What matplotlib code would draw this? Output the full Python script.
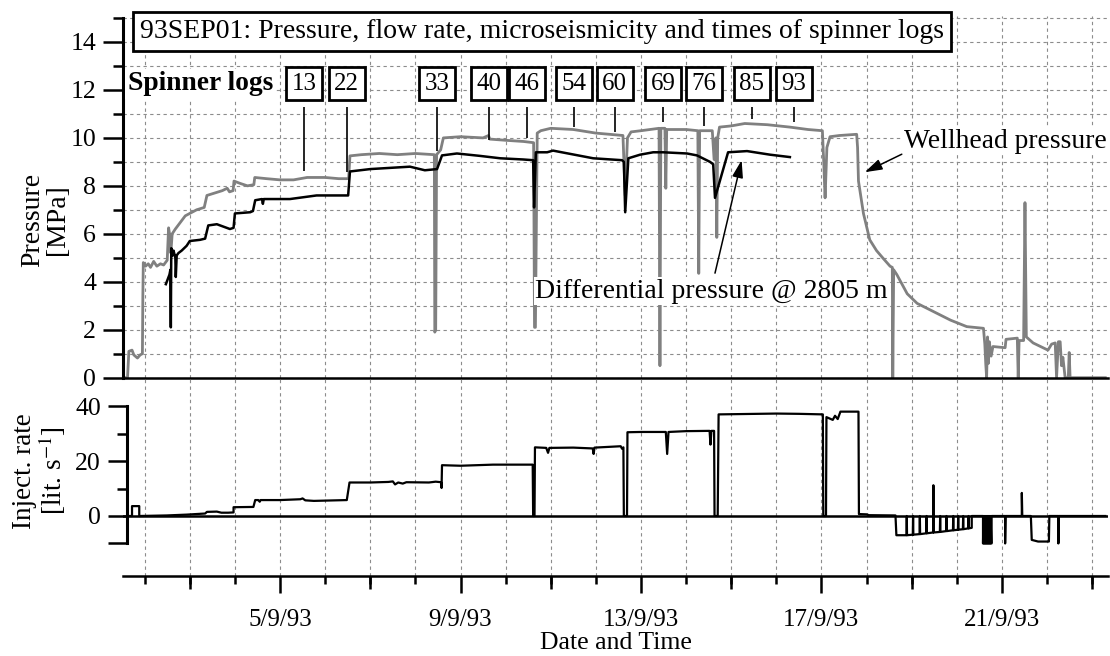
import numpy as np
import matplotlib
matplotlib.use("Agg")
import matplotlib.pyplot as plt

plt.rcParams['font.family'] = ['Liberation Serif', 'DejaVu Serif']
plt.rcParams['mathtext.fontset'] = 'stix'

# wellhead pressure [MPa] vs day of Sept 1993
wh_day = [1.52, 1.62, 1.65, 1.72, 1.76, 1.84, 1.90, 1.95, 1.96, 1.97, 2.02, 2.08, 2.13, 2.20,
          2.27, 2.35, 2.42, 2.50, 2.53, 2.56, 2.58, 2.61, 2.68, 2.78, 2.90, 3.00, 3.15, 3.32,
          3.38, 3.55, 3.72, 3.83, 3.88, 3.96, 3.98, 4.12, 4.28, 4.42, 4.44, 4.70, 5.00, 5.30,
          5.60, 6.00, 6.30, 6.52, 6.55, 6.80, 7.20, 7.60, 8.00, 8.42, 8.43, 8.45, 8.47, 8.56,
          8.62, 9.00, 9.50, 9.62, 9.65, 10.00, 10.40, 10.62, 10.64, 10.66, 10.70, 10.78, 11.00,
          11.50, 12.00, 12.60, 12.65, 12.70, 12.78, 13.00, 13.40, 13.42, 13.44, 13.53, 13.55,
          13.57, 14.00, 14.26, 14.28, 14.30, 14.58, 14.62, 14.66, 14.68, 14.70, 14.74, 15.00,
          15.30, 15.80, 16.30, 16.70, 17.02, 17.05, 17.08, 17.12, 17.19, 17.40, 17.78, 17.80,
          17.82, 17.93, 18.07, 18.22, 18.37, 18.52, 18.57, 18.58, 18.60, 18.67, 18.90, 19.12,
          19.49, 19.86, 20.22, 20.59, 20.62, 20.64, 20.66, 20.68, 20.70, 20.72, 20.76, 20.80,
          21.07, 21.09, 21.34, 21.36, 21.38, 21.48, 21.51, 21.54, 21.69, 21.91, 22.02, 22.10,
          22.18, 22.21, 22.25, 22.29, 22.32, 22.35, 22.40, 22.47, 22.49, 22.51, 23.29]
wh_mpa = [0.0, 0.0, 1.1, 1.15, 0.95, 0.82, 0.95, 1.0, 3.4, 4.8, 4.65, 4.75, 4.6, 4.85,
          4.65, 4.75, 4.7, 4.9, 6.25, 5.9, 5.2, 6.0, 6.2, 6.45, 6.75, 6.85, 7.0, 7.1,
          7.6, 7.7, 7.8, 7.9, 7.75, 7.8, 8.2, 8.1, 8.0, 8.05, 8.35, 8.3, 8.25, 8.25,
          8.35, 8.35, 8.3, 8.3, 9.25, 9.3, 9.35, 9.3, 9.35, 9.3, 1.9, 2.0, 9.3, 9.5,
          10.0, 10.05, 10.0, 10.1, 9.95, 9.9, 9.85, 9.8, 2.1, 2.1, 10.2, 10.3, 10.4,
          10.35, 10.2, 10.1, 7.6, 10.0, 10.25, 10.3, 10.4, 0.5, 10.4, 10.4, 7.9,
          10.35, 10.35, 10.3, 4.35, 10.3, 10.3, 9.1, 10.0, 5.85, 10.0, 10.45, 10.5,
          10.6, 10.55, 10.45, 10.35, 10.3, 9.0, 7.5, 9.6, 10.05, 10.1, 10.15, 9.6,
          8.2, 6.85, 5.75, 5.3, 4.97, 4.65, 4.6, 0.0, 4.5, 4.3, 3.5, 3.1,
          2.75, 2.4, 2.13, 2.06, 1.4, 0.6, 0.0, 1.7, 0.6, 1.5, 0.9, 1.3,
          1.25, 1.6, 1.65, 0.0, 1.55, 1.55, 7.3, 1.7, 1.45, 1.25, 1.15, 1.4,
          1.45, 0.0, 1.5, 1.5, 0.5, 0.85, 0.0, 0.0, 1.05, 0.0, 0.0]

# differential pressure @ 2805 m [MPa]
dp_day = [2.47, 2.55, 2.57, 2.58, 2.59, 2.62, 2.64, 2.68, 2.69, 2.71, 2.75, 2.82, 2.93, 3.00,
          3.23, 3.34, 3.41, 3.60, 3.89, 3.97, 4.00, 4.34, 4.40, 4.45, 4.60, 4.62, 4.64, 5.22,
          5.81, 6.51, 6.55, 7.00, 7.88, 8.21, 8.48, 8.59, 8.92, 9.43, 9.88, 10.39, 10.61, 10.63,
          10.67, 10.92, 11.05, 11.94, 12.58, 12.62, 12.65, 12.72, 12.98, 13.27, 13.49, 14.02,
          14.24, 14.53, 14.60, 14.64, 14.93, 15.35, 15.86, 16.30]
dp_mpa = [3.9, 4.3, 4.5, 2.1, 5.4, 5.1, 5.3, 5.0, 4.2, 5.1, 5.2, 5.3, 5.5, 5.7,
          5.75, 5.8, 6.35, 6.4, 6.2, 6.25, 6.85, 6.9, 6.95, 7.4, 7.45, 7.25, 7.45, 7.45,
          7.6, 7.6, 8.6, 8.7, 8.8, 8.65, 8.7, 9.27, 9.35, 9.25, 9.15, 9.1, 9.07, 7.1,
          9.4, 9.4, 9.47, 9.15, 9.07, 9.0, 6.9, 9.15, 9.3, 9.4, 9.4, 9.35,
          9.27, 9.0, 8.9, 7.5, 9.4, 9.45, 9.3, 9.2]

# injection rate [lit/s]
q_day = [1.61, 1.72, 1.72, 1.88, 1.88, 2.49, 2.93, 3.34, 3.38, 3.60, 3.70, 3.85, 3.97, 3.97,
         4.41, 4.45, 4.52, 4.55, 4.57, 5.00, 5.45, 5.50, 5.56, 5.75, 6.00, 6.48, 6.54, 7.00,
         7.40, 7.50, 7.55, 7.62, 7.72, 7.80, 8.30, 8.45, 8.57, 8.58, 8.59, 9.00, 9.72, 10.60,
         10.61, 10.64, 10.65, 10.90, 10.94, 10.97, 11.50, 11.93, 11.95, 11.97, 12.30, 12.55,
         12.58, 12.61, 12.62, 12.69, 12.70, 13.00, 13.55, 13.58, 13.61, 14.00, 14.52, 14.54,
         14.56, 14.62, 14.63, 14.70, 14.72, 15.50, 16.00, 16.50, 17.03, 17.04, 17.10, 17.11,
         17.25, 17.30, 17.36, 17.42, 17.82, 17.83, 18.00, 18.05, 18.64, 18.66]
q_rate = [0, 0, 3.6, 3.6, 0, 0.2, 0.5, 0.9, 1.5, 1.6, 1.2, 1.2, 1.3, 3.2,
          3.3, 5.8, 5.8, 5.2, 5.8, 5.8, 6.1, 6.4, 5.7, 5.5, 5.6, 5.8, 12.2, 12.2,
          12.4, 12.6, 11.5, 12.2, 11.8, 12.3, 12.2, 12.5, 12.3, 10.2, 18.5, 18.3, 18.7, 18.7,
          0, 0, 25.0, 24.8, 23.0, 24.8, 24.9, 24.6, 22.6, 24.9, 25.2, 25.4,
          24.5, 25.0, 0, 0, 30.5, 30.6, 30.6, 22.6, 30.6, 30.9, 31.0, 26.0,
          31.0, 31.0, 0, 0, 37.0, 37.2, 37.3, 37.2, 37.0, 0, 0, 36.0,
          35.0, 36.5, 35.3, 38.0, 38.0, 0.7, 0.6, 0.3, 0.2, -7.0]
# production pulses after shut-in
tooth_day = [18.89, 19.03, 19.18, 19.33, 19.48, 19.63, 19.77, 19.92, 20.03, 20.14, 20.26]
tooth_low = [-7.0, -6.8, -6.6, -6.3, -6.0, -5.8, -5.5, -5.2, -5.0, -4.8, -4.5]
tooth_top = [0, 0, 0, 0, 11.2, 0, 0, 0, 0, 0, 0]
tail_day = [20.33, 20.33, 20.58, 20.58, 20.59, 20.60, 20.61, 20.62, 20.63, 20.64, 20.65,
            20.66, 20.67, 20.68, 20.69, 20.70, 20.71, 20.72, 20.73, 20.74, 20.75, 20.76,
            20.77, 20.77, 21.07, 21.07, 21.08, 21.44, 21.44,
            21.45, 21.64, 21.66, 21.80, 22.04, 22.05, 22.25, 22.25, 22.26, 23.29]
tail_rate = [-4.3, 0, 0, -10, 0, -10, 0, -10, 0, -10, 0,
             -10, 0, -10, 0, -10, 0, -10, 0, -10, 0, -10,
             -10, 0, 0, -10, 0, 0, 8.4,
             0, 0, -8.7, -9.3, -9.3, 0, 0, -10, 0, 0]

log_labels = ['13', '22', '33', '40', '46', '54', '60', '69', '76', '85', '93']
log_days = [5.53, 6.48, 8.48, 9.63, 10.47, 11.52, 12.42, 13.49, 14.40, 15.46, 16.39]
log_p = [8.6, 8.57, 9.45, 9.9, 10.0, 10.45, 10.24, 10.65, 10.5, 10.8, 10.65]

date_days = [5, 9, 13, 17, 21]
date_labels = ['5/9/93', '9/9/93', '13/9/93', '17/9/93', '21/9/93']

# build injection polyline incl. pulses
for d, lo, top in zip(tooth_day, tooth_low, tooth_top):
    q_day += [d - 0.006, d, d + 0.006]
    q_rate += [lo, top, lo]
q_day += tail_day
q_rate += tail_rate

GRAY = '#808080'
GRID = '#8c8c8c'
W, H = 1110, 656


def px_box(x0, y_top, x1, y_bot):
    return [x0 / W, 1 - y_bot / H, (x1 - x0) / W, (y_bot - y_top) / H]


fig = plt.figure(figsize=(11.1, 6.56), dpi=100)
xlim = (1.52, 23.35)

# ---- pressure panel
ax_p = fig.add_axes(px_box(123, 15.6, 1108, 377.7))
ax_p.set_xlim(xlim)
ax_p.set_ylim(0, 15.1)
ax_p.set_axisbelow(True)
for s in ['top', 'right']:
    ax_p.spines[s].set_visible(False)
ax_p.spines['left'].set_linewidth(2.2)
ax_p.spines['left'].set_bounds(0, 15)
ax_p.spines['bottom'].set_linewidth(1.8)
ax_p.set_xticks(np.arange(2, 24))
ax_p.tick_params(axis='x', length=0, labelbottom=False)
ax_p.set_yticks(range(0, 15, 2))
ax_p.set_yticks(range(1, 16, 2), minor=True)
ax_p.tick_params(axis='y', which='major', length=14.4, width=1.8, labelsize=18.5, pad=5)
ax_p.tick_params(axis='y', which='minor', length=7, width=1.8)
ax_p.grid(which='both', axis='y', ls=(0, (3, 3)), color=GRID, lw=0.8)
ax_p.grid(which='major', axis='x', ls=(0, (3, 3)), color=GRID, lw=0.8)

ax_p.plot(wh_day, wh_mpa, color=GRAY, lw=2.0, zorder=2)
ax_p.plot(dp_day, dp_mpa, color='black', lw=1.8, zorder=2.1)

ax_p.text(1.90, 14.45, '93SEP01: Pressure, flow rate, microseismicity and times of spinner logs',
          fontsize=20, ha='left', va='center', zorder=5,
          bbox=dict(boxstyle='square,pad=0.25', fc='white', ec='black', lw=2))
ax_p.text(1.63, 12.25, 'Spinner logs', fontsize=19.8, fontweight='bold', ha='left', va='center',
          zorder=5, bbox=dict(boxstyle='square,pad=0.1', fc='white', ec='none'))
for d, lab in zip(log_days, log_labels):
    ax_p.text(d, 12.25, lab, fontsize=18, ha='center', va='center', zorder=5,
              bbox=dict(boxstyle='square,pad=0.22', fc='white', ec='black', lw=2))
ax_p.vlines(log_days, log_p, 11.28, color='black', lw=1.2, zorder=3)

ax_p.text(18.82, 9.85, 'Wellhead pressure', fontsize=19.8, ha='left', va='center', zorder=4,
          bbox=dict(boxstyle='square,pad=0.05', fc='white', ec='none'))
ax_p.annotate('', xy=(17.96, 8.57), xytext=(18.78, 9.32), zorder=6,
              arrowprops=dict(arrowstyle='-|>,head_length=0.7,head_width=0.22',
                              color='black', lw=1.1, mutation_scale=15,
                              shrinkA=0, shrinkB=0))
ax_p.text(10.65, 3.6, 'Differential pressure @ 2805 m', fontsize=20, ha='left', va='center',
          zorder=4, bbox=dict(boxstyle='square,pad=0.05', fc='white', ec='none'))
ax_p.annotate('', xy=(15.23, 9.07), xytext=(14.64, 4.36), zorder=6,
              arrowprops=dict(arrowstyle='-|>,head_length=0.7,head_width=0.22',
                              color='black', lw=1.1, mutation_scale=15,
                              shrinkA=0, shrinkB=0))

# ---- injection panel + date axis
ax_q = fig.add_axes(px_box(123, 377.7, 1108, 576))
ax_q.set_xlim(xlim)
ax_q.set_ylim(-21.85, 50.36)
ax_q.set_axisbelow(True)
ax_q.patch.set_alpha(0)
for s in ['top', 'right']:
    ax_q.spines[s].set_visible(False)
ax_q.spines['left'].set_position(('data', 1.609))
ax_q.spines['left'].set_bounds(-10, 40)
ax_q.spines['left'].set_linewidth(2.2)
ax_q.spines['bottom'].set_linewidth(1.8)
ax_q.set_yticks([-10, 0, 20, 40])
ax_q.set_yticklabels(['', '0', '20', '40'])
ax_q.set_yticks([10, 30], minor=True)
ax_q.tick_params(axis='y', which='major', length=13.7, width=1.8, labelsize=18.5, pad=5)
ax_q.tick_params(axis='y', which='minor', length=7, width=1.8)
ax_q.set_xticks(date_days)
ax_q.set_xticklabels(date_labels)
ax_q.set_xticks(np.arange(2, 24), minor=True)
ax_q.tick_params(axis='x', which='major', length=12.5, width=1.8, labelsize=18, pad=11)
ax_q.tick_params(axis='x', which='minor', length=5.8, width=1.8)
ax_q.grid(which='both', axis='x', ls=(0, (3, 3)), color=GRID, lw=0.8)
ax_q.axhline(0, color='black', lw=1.8, zorder=2)
ax_q.plot(q_day, q_rate, color='black', lw=1.6, zorder=3)
ax_q.set_xlabel('Date and Time', fontsize=18.5, labelpad=1)

ax_t = ax_q.twiny()
ax_t.set_xlim(xlim)
for s in ax_t.spines.values():
    s.set_visible(False)
ax_t.xaxis.set_ticks_position('bottom')
ax_t.set_xticks([3, 7, 11, 15, 19, 23])
ax_t.tick_params(axis='x', length=9.4, width=1.8, labelbottom=False, labeltop=False)

fig.text(45 / W, 1 - 220 / H, 'Pressure\n[MPa]', fontsize=20, rotation=90,
         ha='center', va='center', linespacing=0.95)
fig.text(40 / W, 1 - 471 / H, 'Inject. rate\n[lit. s$^{-1}$]', fontsize=19.5, rotation=90,
         ha='center', va='center', linespacing=0.95)

fig.savefig('out.png', dpi=100)
